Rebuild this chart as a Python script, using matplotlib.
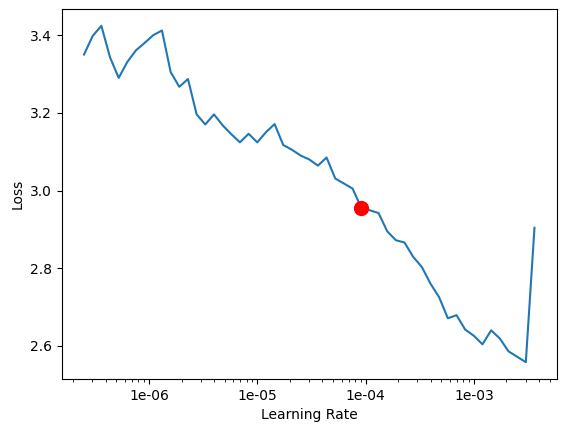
import matplotlib
matplotlib.use("Agg")
import matplotlib.pyplot as plt
from matplotlib.ticker import FormatStrFormatter, NullFormatter

lrs = [
    2.512e-7, 3.020e-7, 3.631e-7, 4.365e-7, 5.248e-7, 6.310e-7, 7.586e-7, 9.120e-7,
    1.096e-6, 1.318e-6, 1.585e-6, 1.905e-6, 2.291e-6, 2.754e-6, 3.311e-6, 3.981e-6,
    4.786e-6, 5.754e-6, 6.918e-6, 8.318e-6, 1.000e-5, 1.202e-5, 1.445e-5, 1.738e-5,
    2.089e-5,
    2.512e-5, 3.020e-5, 3.631e-5, 4.365e-5, 5.248e-5, 6.310e-5, 7.586e-5, 9.120e-5,
    1.096e-4, 1.318e-4, 1.585e-4, 1.905e-4, 2.291e-4, 2.754e-4, 3.311e-4, 3.981e-4,
    4.786e-4, 5.754e-4, 6.918e-4, 8.318e-4, 1.000e-3, 1.202e-3, 1.445e-3, 1.738e-3,
    2.089e-3,
    2.512e-3, 3.020e-3, 3.631e-3,
]
losses = [
    3.350, 3.398, 3.424, 3.343, 3.290, 3.331, 3.361, 3.380, 3.400, 3.412,
    3.305, 3.267, 3.287, 3.196, 3.170, 3.196, 3.168, 3.145, 3.124, 3.146,
    3.124, 3.150, 3.171, 3.117, 3.105, 3.090, 3.080, 3.064, 3.085, 3.031,
    3.018, 3.005, 2.956, 2.949, 2.942, 2.895, 2.872, 2.866, 2.829, 2.803,
    2.760, 2.725, 2.671, 2.679, 2.642, 2.626, 2.604, 2.640, 2.619, 2.586,
    2.572, 2.558, 2.904,
]
suggest_idx = 32

fig = plt.figure(figsize=(5.67, 4.32), dpi=100)
ax = fig.add_axes([61.5 / 567, (432 - 379) / 432, (557 - 61.5) / 567, (379 - 9) / 432])
ax.plot(lrs, losses)
ax.plot(lrs[suggest_idx], losses[suggest_idx], marker='o', markersize=10, color='red')
ax.set_xscale('log')
ax.xaxis.set_major_formatter(FormatStrFormatter('%.0e'))
ax.xaxis.set_minor_formatter(NullFormatter())
ax.set_xlabel('Learning Rate')
ax.set_ylabel('Loss')
fig.savefig('out.png', dpi=100)
